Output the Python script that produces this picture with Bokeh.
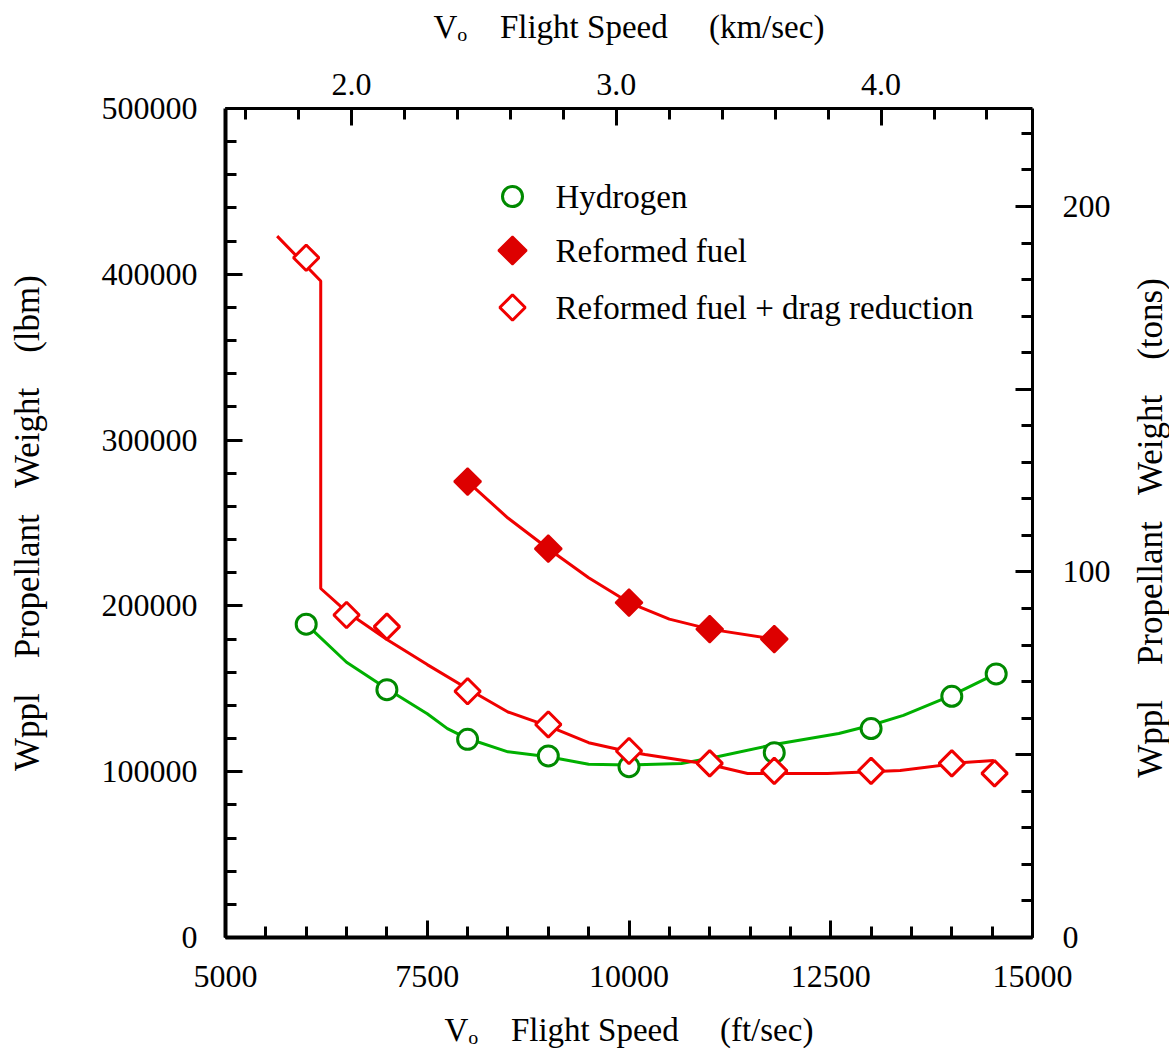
import math
from bokeh.plotting import figure
from bokeh.layouts import row
from bokeh.models import (Range1d, LinearAxis, FixedTicker, ColumnDataSource)
from bokeh.core.properties import value
from bokeh.embed import file_html
from bokeh.resources import INLINE

# ---------------- data ----------------
# Hydrogen (markers)
h2_speed = [6000, 7000, 8000, 9000, 10000, 11800, 13000, 14000, 14550]
h2_weight = [189000, 149500, 119500, 109500, 103000, 111500, 126000, 145500, 159000]
# Hydrogen (fitted curve)
h2_curve_speed = [6000, 6500, 7000, 7500, 7750, 8000, 8500, 9000, 9500, 10000, 10650,
                  11050, 11800, 12600, 13000, 13400, 14000, 14550]
h2_curve_weight = [189000, 166000, 150000, 135000, 126000, 120000, 112000, 109000, 104500,
                   104000, 105000, 108600, 116400, 123000, 128000, 134000, 146000, 159200]

# Reformed fuel (markers)
rf_speed = [8000, 9000, 10000, 11000, 11800]
rf_weight = [275000, 234500, 202000, 186000, 180000]
# Reformed fuel (curve)
rf_curve_speed = [8000, 8500, 9000, 9500, 10000, 10500, 11000, 11800]
rf_curve_weight = [275000, 253000, 234500, 217000, 202000, 192000, 186000, 180000]

# Reformed fuel + drag reduction (markers)
rd_speed = [6000, 6500, 7000, 8000, 9000, 10000, 11000, 11800, 13000, 14000, 14530]
rd_weight = [410000, 194500, 187500, 148500, 128500, 112500, 105000, 100500, 100500, 105000, 99000]
# Reformed fuel + drag reduction (curve)
rd_curve_speed = [5640, 6180, 6180, 6500, 7000, 7500, 8000, 8500, 9000, 9500, 10000,
                  10200, 11000, 11470, 12460, 13360, 14150, 14520]
rd_curve_weight = [423000, 396000, 210500, 196500, 179700, 164600, 150000, 136000, 127500,
                   117500, 112000, 110400, 104300, 98900, 98900, 100700, 105500, 106800]

legend_labels = ["Hydrogen", "Reformed fuel", "Reformed fuel + drag reduction"]

x_major = [5000, 7500, 10000, 12500, 15000]
x_minor = list(range(5000, 15001, 500))
y_major = [0, 100000, 200000, 300000, 400000, 500000]
y_minor = list(range(0, 500001, 20000))
km_major = [2.0, 3.0, 4.0]
km_minor = [1.6, 1.8, 2.2, 2.4, 2.6, 2.8, 3.2, 3.4, 3.6, 3.8, 4.2, 4.4]
ton_major = [0, 50, 100, 150, 200]
ton_minor = list(range(0, 221, 10))
ton_labels = {0: "0", 50: "", 100: "100", 150: "", 200: "200"}
km_labels = {2: "2.0", 3: "3.0", 4: "4.0"}
x_labels = {v: str(v) for v in x_major}
y_labels = {v: str(v) for v in y_major}

FT_PER_KM = 3280.84
LBM_PER_TON = 2204.62

NB = "\u00a0"
FONT = "Liberation Serif"
TICK_SIZE = "32px"
TITLE_SIZE = "33px"
VTITLE_SIZE = "35px"

FW, FH = 807, 829
TOP, BOT = 108, 111
p = figure(frame_width=FW, frame_height=FH,
           x_range=Range1d(5000, 15000), y_range=Range1d(0, 500000),
           x_axis_location=None, y_axis_location=None,
           toolbar_location=None, output_backend="svg",
           min_border_left=225, min_border_right=98,
           min_border_top=TOP, min_border_bottom=BOT)
p.outline_line_color = None
p.xgrid.visible = False
p.ygrid.visible = False
p.background_fill_color = "white"
p.border_fill_color = "white"

p.extra_x_ranges = {"km": Range1d(5000 / FT_PER_KM, 15000 / FT_PER_KM),
                    "px": Range1d(0, FW)}
p.extra_y_ranges = {"tons": Range1d(0, 500000 / LBM_PER_TON),
                    "py": Range1d(0, FH)}


def style(ax, lw, standoff, title_standoff, title_size=TITLE_SIZE):
    ax.axis_line_width = lw
    ax.axis_line_color = "black"
    ax.major_tick_in = 17
    ax.major_tick_out = 0
    ax.minor_tick_in = 11
    ax.minor_tick_out = 0
    ax.major_tick_line_width = 3
    ax.minor_tick_line_width = 3
    ax.major_tick_line_color = "black"
    ax.minor_tick_line_color = "black"
    ax.major_label_text_font = FONT
    ax.major_label_text_font_size = TICK_SIZE
    ax.major_label_text_color = "black"
    ax.major_label_standoff = standoff
    ax.axis_label_text_font = FONT
    ax.axis_label_text_font_size = title_size
    ax.axis_label_text_font_style = "normal"
    ax.axis_label_text_color = "black"
    ax.axis_label_standoff = title_standoff


speed_title = "V\u2092" + NB * 4 + "Flight" + NB + "Speed" + NB * 5
bottom = LinearAxis(ticker=FixedTicker(ticks=x_major, minor_ticks=x_minor),
                    axis_label=speed_title + "(ft/sec)",
                    major_label_overrides=x_labels)
style(bottom, 4, 28, 22)
p.add_layout(bottom, "below")

weight_title = "Wppl" + NB * 4 + "Propellant" + NB * 3 + "Weight" + NB * 4
left = LinearAxis(ticker=FixedTicker(ticks=y_major, minor_ticks=y_minor),
                  axis_label=weight_title + "(lbm)",
                  major_label_overrides=y_labels)
style(left, 4, 28, 52, VTITLE_SIZE)
p.add_layout(left, "left")

top = LinearAxis(x_range_name="km",
                 ticker=FixedTicker(ticks=km_major, minor_ticks=km_minor),
                 axis_label=speed_title + "(km/sec)",
                 major_label_overrides=km_labels)
style(top, 3, 14, 26)
p.add_layout(top, "above")

right = LinearAxis(y_range_name="tons",
                   ticker=FixedTicker(ticks=ton_major, minor_ticks=ton_minor),
                   major_label_overrides=ton_labels)
style(right, 3, 30, 14)
p.add_layout(right, "right")

GREEN_LINE = "#00B000"
GREEN_MARK = "#008A00"
RED = "#F00000"
RED_FILL = "#DD0000"

p.line(h2_curve_speed, h2_curve_weight, line_color=GREEN_LINE, line_width=3)
p.line(rf_curve_speed, rf_curve_weight, line_color=RED, line_width=3)
p.line(rd_curve_speed, rd_curve_weight, line_color=RED, line_width=3)

p.scatter(h2_speed, h2_weight, marker="circle", size=20,
          fill_color="white", line_color=GREEN_MARK, line_width=3)
p.scatter(rf_speed, rf_weight, marker="square", size=19, angle=math.pi / 4,
          fill_color=RED_FILL, line_color=RED_FILL, line_width=2)
p.scatter(rd_speed, rd_weight, marker="square", size=18, angle=math.pi / 4,
          fill_color="white", line_color=RED, line_width=3)

# legend (positions in frame pixels)
leg_x, leg_text_x = 287, 330
leg_y = [741, 687, 630]
p.scatter([leg_x], [leg_y[0]], x_range_name="px", y_range_name="py",
          marker="circle", size=20, fill_color="white", line_color=GREEN_MARK, line_width=3)
p.scatter([leg_x], [leg_y[1]], x_range_name="px", y_range_name="py",
          marker="square", size=20, angle=math.pi / 4,
          fill_color=RED_FILL, line_color=RED_FILL, line_width=2)
p.scatter([leg_x], [leg_y[2]], x_range_name="px", y_range_name="py",
          marker="square", size=18, angle=math.pi / 4,
          fill_color="white", line_color=RED, line_width=3)
leg_src = ColumnDataSource(dict(x=[leg_text_x] * 3, y=leg_y, t=legend_labels))
p.text(x="x", y="y", text="t", source=leg_src, x_range_name="px", y_range_name="py",
       text_font=value(FONT), text_font_size="33px", text_color="black",
       text_baseline="middle", text_align="left")

# right-hand title strip (reads bottom-to-top like the left title)
p2 = figure(frame_width=39, frame_height=FH,
            x_range=Range1d(0, 1), y_range=Range1d(0, FH),
            x_axis_location=None, y_axis_location=None,
            toolbar_location=None, output_backend="svg",
            min_border_left=0, min_border_right=0,
            min_border_top=TOP, min_border_bottom=BOT)
p2.outline_line_color = None
p2.xgrid.visible = False
p2.ygrid.visible = False
p2.background_fill_color = "white"
p2.border_fill_color = "white"
p2.text(x=[0.5], y=[FH / 2 - 5], text=[weight_title + "(tons)"], angle=math.pi / 2,
        text_align="center", text_baseline="middle",
        text_font=value(FONT), text_font_size=VTITLE_SIZE, text_color="black")

layout = row(p, p2, spacing=0)
open("out.html", "w").write(file_html(layout, INLINE))
